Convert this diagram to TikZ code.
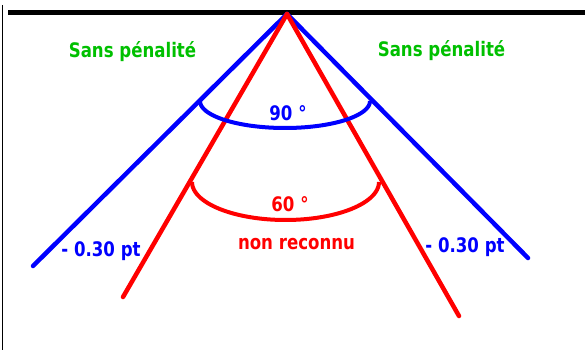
\documentclass[tikz,border=0pt]{standalone}
\usepackage{fontspec}
\setmainfont{DejaVu Sans}[FakeStretch=0.83]
\definecolor{myblue}{RGB}{0,0,255}
\definecolor{myred}{RGB}{255,0,0}
\definecolor{mygreen}{RGB}{0,192,0}
\begin{document}
\begin{tikzpicture}[x=1pt,y=-1pt,
  lbl/.style={font=\fontsize{20}{22}\selectfont\bfseries, anchor=base, inner sep=0pt},
  ray/.style={line width=4.5pt, line cap=round},
  anglearc/.style={line width=4pt}]
\useasboundingbox (0,0) rectangle (585,350);
\fill[white] (0,0) rectangle (585,350);
% frame
\draw[line width=1.5pt] (2.5,5) -- (2.5,350);
\draw[line width=5pt] (8,12.5) -- (585,12.5);
% rays
\coordinate (apex) at (287,14);
\coordinate (bl) at (33,266);
\coordinate (br) at (528,258);
\coordinate (rl) at (123,297);
\coordinate (rr) at (459,316);
\draw[ray, myblue] (apex) -- (bl);
\draw[ray, myblue] (apex) -- (br);
\draw[ray, myred] (apex) -- (rl);
\draw[ray, myred] (apex) -- (rr);
% angle arcs
\draw[anglearc, myblue] plot[domain=180:360, samples=60, smooth] ({285+85*cos(\x)},{101-27*sin(\x)});
\draw[anglearc, myred] plot[domain=180:360, samples=60, smooth] ({285.5+93.5*cos(\x)},{182-38*sin(\x)});
% labels
\node[lbl, text=mygreen] (sl) at (132.5,58) {Sans pénalité};
\node[lbl, text=mygreen] (sr) at (441.5,57) {Sans pénalité};
\node[lbl, text=myblue] (a90) at (288,120) {90 °};
\node[lbl, text=myred] (a60) at (290,211.5) {60 °};
\node[lbl, text=myred] (nr) at (296.5,249) {non reconnu};
\node[lbl, text=myblue] (pl) at (101,256) {- 0.30 pt};
\node[lbl, text=myblue] (pr) at (465,252) {- 0.30 pt};
\end{tikzpicture}
\end{document}
